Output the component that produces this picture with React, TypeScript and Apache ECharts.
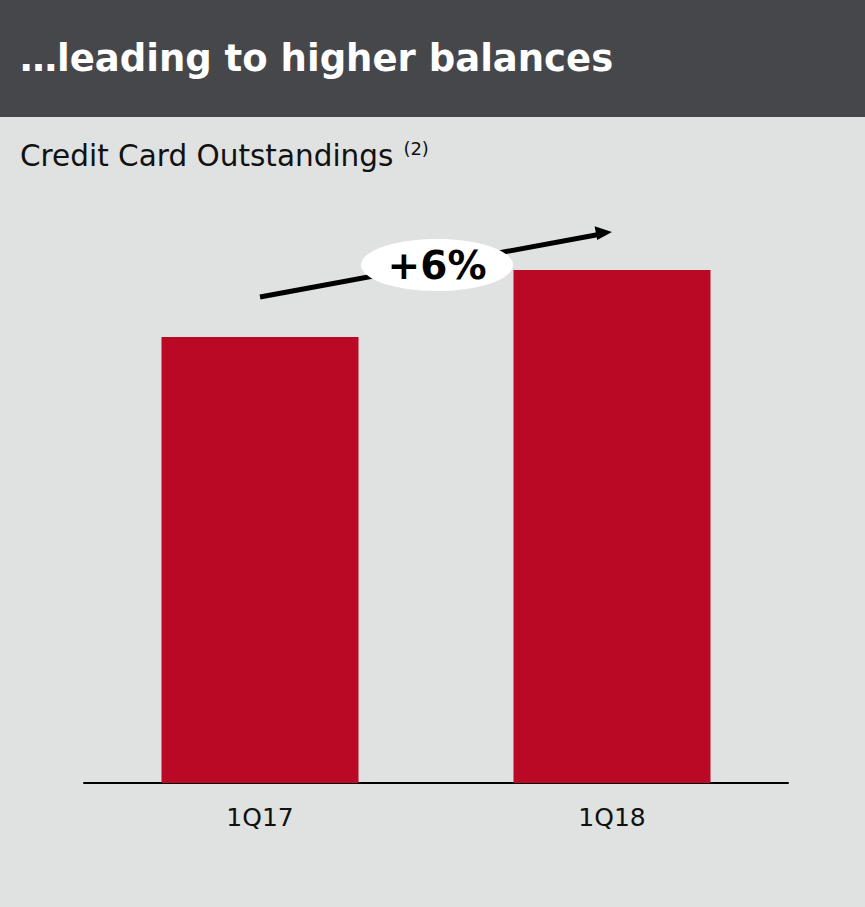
import React, { useEffect, useRef } from "react";
import * as echarts from "echarts";

// Credit card outstandings, indexed to 1Q17 = 100
const categories = ["1Q17", "1Q18"];
const outstandings = [100, 106];
const axisMin = 60;

const growthPct = Math.round((outstandings[1] / outstandings[0] - 1) * 100);
const growthLabel = `+${growthPct}%`;

const FONT = "'DejaVu Sans', Verdana, sans-serif";

export default function App() {
  const ref = useRef<HTMLDivElement>(null);

  useEffect(() => {
    if (!ref.current) return;
    const chart = echarts.init(ref.current, undefined, { renderer: "svg" });
    chart.setOption({
      animation: false,
      backgroundColor: "#e0e2e1",
      grid: { left: 84, right: 77, top: 270, bottom: 124 },
      xAxis: {
        type: "category",
        data: categories,
        axisLine: { show: true, lineStyle: { color: "#000", width: 2 } },
        axisTick: { show: false },
        axisLabel: {
          color: "#111",
          fontFamily: FONT,
          fontSize: 25,
          margin: 22,
        },
      },
      yAxis: {
        type: "value",
        min: axisMin,
        max: outstandings[1],
        show: false,
        splitLine: { show: false },
      },
      series: [
        {
          type: "bar",
          data: outstandings,
          barWidth: 197,
          itemStyle: { color: "#b90925" },
        },
      ],
      graphic: [
        {
          type: "rect",
          shape: { x: 0, y: 0, width: 865, height: 117 },
          style: { fill: "#46474b" },
        },
        {
          type: "text",
          left: 20,
          top: 40,
          style: {
            text: "…leading to higher balances",
            fill: "#ffffff",
            font: `bold 37px ${FONT}`,
          },
        },
        {
          type: "text",
          left: 20,
          top: 139,
          style: {
            rich: {
              main: { fontFamily: FONT, fontSize: 29.5, fill: "#111" },
              sup: { fontFamily: FONT, fontSize: 18, fill: "#111", verticalAlign: "top", padding: [0, 0, 16, 10] },
            },
            text: "{main|Credit Card Outstandings}{sup|(2)}",
          },
        },
        // growth arrow
        {
          type: "line",
          shape: { x1: 260, y1: 297, x2: 600, y2: 234.2 },
          style: { stroke: "#000", lineWidth: 5 },
        },
        {
          type: "polygon",
          shape: {
            points: [
              [612, 232],
              [594.6, 226.3],
              [597.2, 240.1],
            ],
          },
          style: { fill: "#000" },
        },
        {
          type: "ellipse",
          shape: { cx: 437, cy: 265, rx: 76, ry: 26 },
          style: { fill: "#ffffff" },
        },
        {
          type: "text",
          x: 437,
          y: 265,
          style: {
            text: growthLabel,
            fill: "#000",
            font: `bold 39px ${FONT}`,
            align: "center",
            verticalAlign: "middle",
          },
        },
      ],
    });
    return () => chart.dispose();
  }, []);

  return (
    <div
      ref={ref}
      style={{ position: "absolute", left: 0, top: 0, width: 865, height: 907 }}
    />
  );
}
